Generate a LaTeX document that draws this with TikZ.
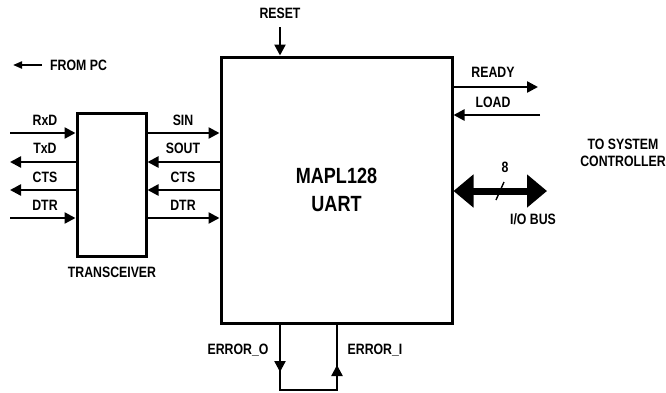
\documentclass[tikz,border=0pt]{standalone}
\usepackage{fontspec}
\setmainfont{Liberation Sans}
\newfontfamily\lblfont{Liberation Sans}[FakeStretch=0.82]
\usetikzlibrary{arrows.meta}
\begin{document}
\begin{tikzpicture}[x=1pt,y=-1pt,
  lbl/.style={font=\lblfont\bfseries\fontsize{15}{17}\selectfont, inner sep=0pt, align=center},
  sig/.style={line width=2.4pt, -{Triangle[length=11pt,width=11pt]}},
  wire/.style={line width=2.2pt},
  blk/.style={draw, line width=3pt, inner sep=0pt}]
\useasboundingbox (0,0) rectangle (666,392);
% blocks
\node[blk, minimum width=231pt, minimum height=266pt, align=center,
      font=\lblfont\bfseries\fontsize{22}{28}\selectfont] (uart) at (336.5,190) {MAPL128\\UART};
\node[blk, minimum width=69pt, minimum height=143pt] (trx) at (111.5,184.5) {};
\node[lbl] (trxl) at (112,272) {TRANSCEIVER};
% from PC
\coordinate (fpa) at (42,65);
\coordinate (fpb) at (13,65);
\draw[line width=2pt, -{Triangle[length=9pt,width=7pt]}] (fpa) -- (fpb);
\node[lbl, anchor=west] (frompc) at (50,65) {FROM PC};
% rows
\coordinate (r1) at (10,133);
\coordinate (r2) at (10,162);
\coordinate (r3) at (10,190);
\coordinate (r4) at (10,218);
\draw[sig] (r1) -- (trx.west |- r1);
\draw[sig] (trx.west |- r2) -- (r2);
\draw[sig] (trx.west |- r3) -- (r3);
\draw[sig] (r4) -- (trx.west |- r4);
\draw[sig] (trx.east |- r1) -- (uart.west |- r1);
\draw[sig] (uart.west |- r2) -- (trx.east |- r2);
\draw[sig] (uart.west |- r3) -- (trx.east |- r3);
\draw[sig] (trx.east |- r4) -- (uart.west |- r4);
\node[lbl] (rxd) at (45,120) {RxD};
\node[lbl] (txd) at (45,148) {TxD};
\node[lbl] (cts1) at (45,177) {CTS};
\node[lbl] (dtr1) at (45,205) {DTR};
\node[lbl] (sin) at (183,120) {SIN};
\node[lbl] (sout) at (183,148) {SOUT};
\node[lbl] (cts2) at (183,177) {CTS};
\node[lbl] (dtr2) at (183,205) {DTR};
% reset
\node[lbl] (reset) at (280,13) {RESET};
\coordinate (rs) at (280,27);
\draw[sig] (rs) -- (rs |- uart.north);
% right side
\coordinate (rdy) at (538,87);
\coordinate (ld) at (540,115);
\draw[sig] (uart.east |- rdy) -- (rdy);
\draw[sig] (ld) -- (uart.east |- ld);
\node[lbl] (readyl) at (493,72) {READY};
\node[lbl] (loadl) at (493,102) {LOAD};
\coordinate (bus) at (547,191);
\draw[line width=7pt, {Triangle[length=20pt,width=32pt]}-{Triangle[length=20pt,width=32pt]}] (uart.east |- bus) -- (bus);
\draw[line width=1.4pt] (496,200) -- (504,182);
\node[lbl] (eight) at (505,167) {8};
\node[lbl] (iobus) at (533,219) {I/O BUS};
\node[lbl] (tosys) at (623,153) {TO SYSTEM\\CONTROLLER};
% errors
\coordinate (e0) at (280,390);
\coordinate (e1) at (337,390);
\coordinate (e0m) at (280,372);
\coordinate (e1m) at (337,365);
\draw[wire] (uart.south -| e0) -- (e0) -- (e1) -- (uart.south -| e1);
\draw[sig] (uart.south -| e0) -- (e0m);
\draw[sig] (e1) -- (e1m);
\node[lbl] (err0) at (238,350) {ERROR\_O};
\node[lbl] (err1) at (375,350) {ERROR\_I};
\end{tikzpicture}
\end{document}
